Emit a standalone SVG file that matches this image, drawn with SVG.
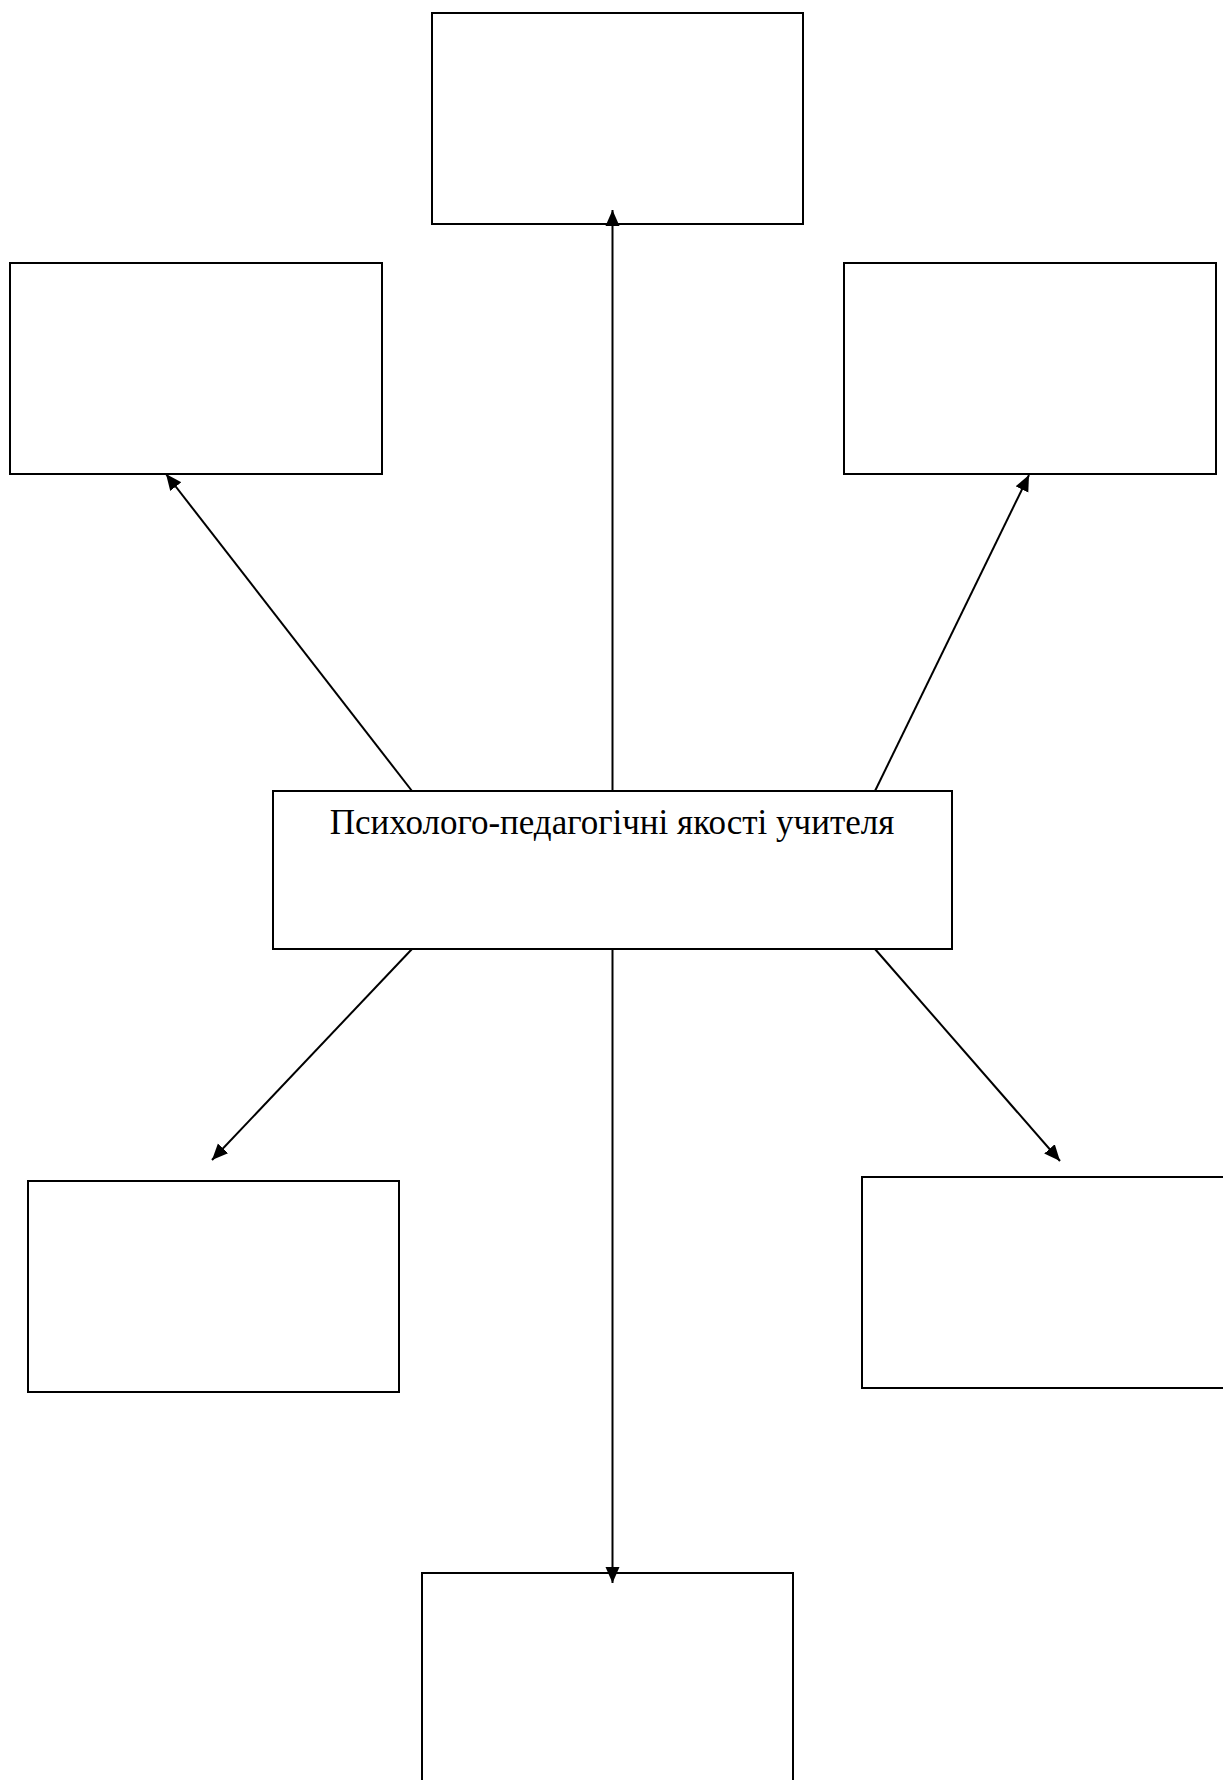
<svg xmlns="http://www.w3.org/2000/svg" width="1223" height="1780" viewBox="0 0 1223 1780">
<style>
.box{fill:#fff;stroke:#000;stroke-width:2}
.conn{stroke:#000;stroke-width:2;fill:none;marker-end:url(#arr)}
.lbl{font-family:"Liberation Serif","Times New Roman",serif;font-size:35px;fill:#000;text-anchor:middle}
</style>
<defs>
<marker id="arr" markerUnits="userSpaceOnUse" markerWidth="16" markerHeight="16" viewBox="0 0 16 16" refX="16" refY="8" orient="auto">
<path d="M0,1 L16,8 L0,15 Z" fill="#000"/>
</marker>
</defs>
<rect width="1223" height="1780" fill="#fff"/>
<g id="node-top"><rect class="box" x="432" y="13" width="371" height="211"/></g>
<g id="node-left"><rect class="box" x="10" y="263" width="372" height="211"/></g>
<g id="node-right"><rect class="box" x="844" y="263" width="372" height="211"/></g>
<g id="node-bottom-left"><rect class="box" x="28" y="1181" width="371" height="211"/></g>
<g id="node-bottom-right"><rect class="box" x="862" y="1177" width="372" height="211"/></g>
<g id="node-bottom"><rect class="box" x="422" y="1573" width="371" height="211"/></g>
<g id="node-center"><rect class="box" x="273" y="791" width="679" height="158"/>
<text class="lbl" x="612" y="834">Психолого-педагогічні якості учителя</text></g>
<g id="connectors">
<line class="conn" x1="612.5" y1="791" x2="612.5" y2="210"/>
<line class="conn" x1="412" y1="791" x2="166" y2="474"/>
<line class="conn" x1="875" y1="791" x2="1029" y2="475"/>
<line class="conn" x1="412" y1="949" x2="212" y2="1160"/>
<line class="conn" x1="612.5" y1="949" x2="612.5" y2="1583"/>
<line class="conn" x1="875" y1="949" x2="1060" y2="1161"/>
</g>
</svg>
